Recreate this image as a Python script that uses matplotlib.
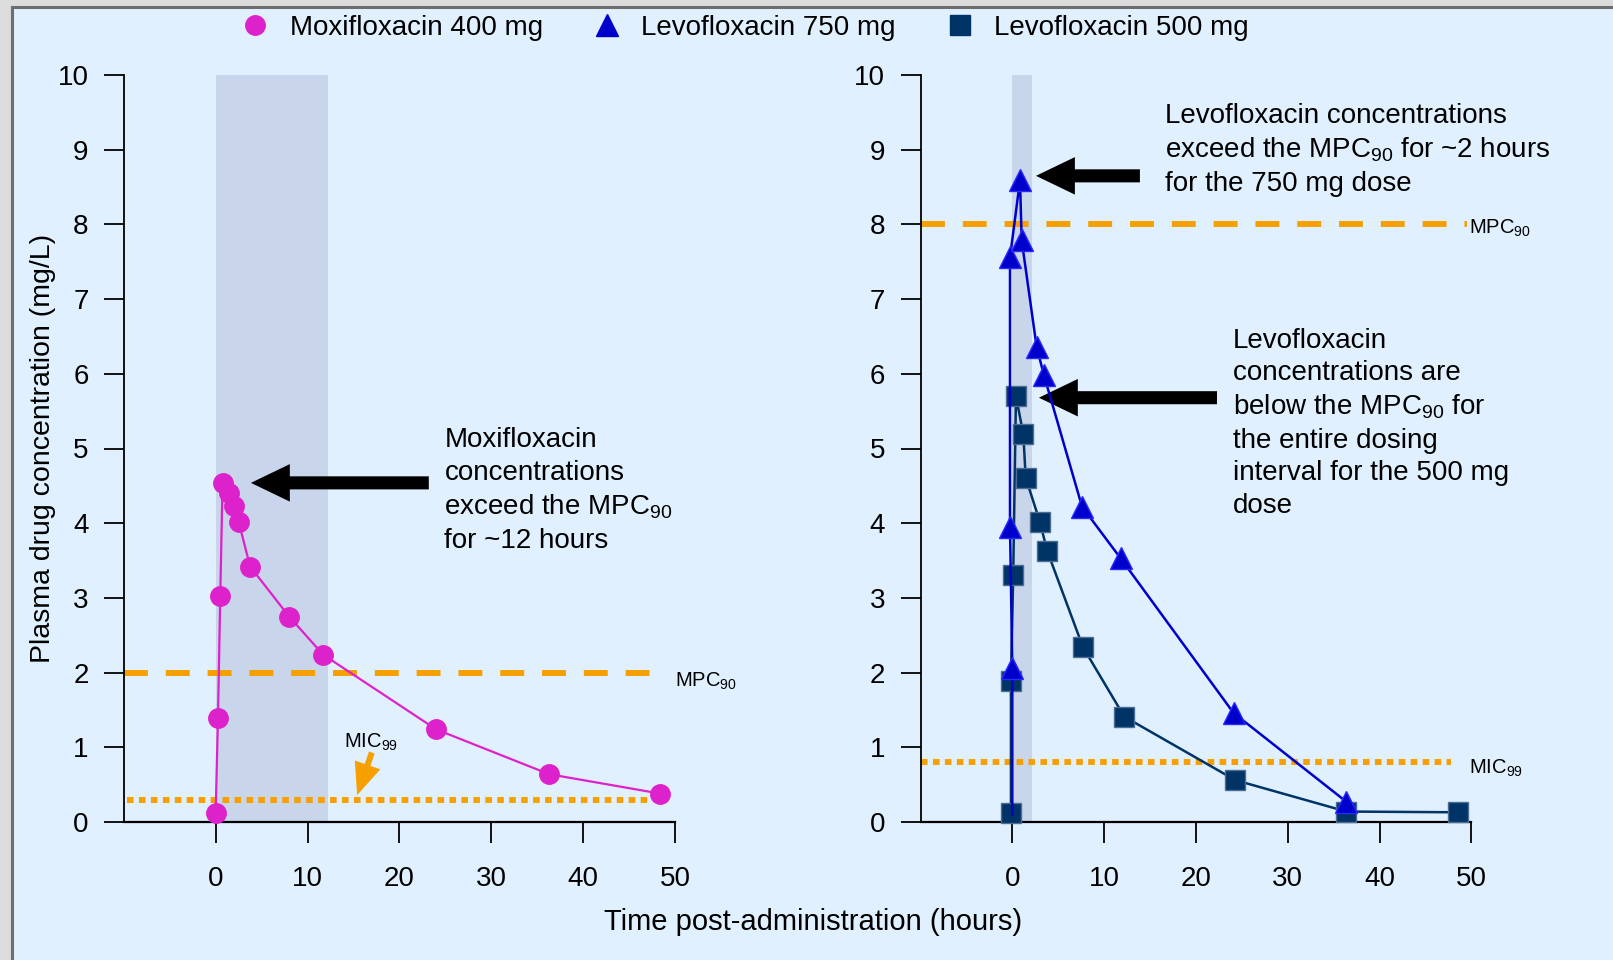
import matplotlib.pyplot as plt
from matplotlib.lines import Line2D
from matplotlib.patches import Rectangle

plt.rcParams['font.family'] = ['Liberation Sans', 'DejaVu Sans']
plt.rcParams['mathtext.fontset'] = 'custom'
plt.rcParams['mathtext.rm'] = 'Liberation Sans'
plt.rcParams['mathtext.it'] = 'Liberation Sans:italic'

# Data
moxi_t = [0, 0.25, 0.5, 0.75, 1.5, 2, 2.5, 3.75, 8, 11.7, 24, 36.3, 48.4]
moxi_c = [0.12, 1.39, 3.02, 4.54, 4.41, 4.23, 4.02, 3.42, 2.75, 2.24, 1.24, 0.64, 0.38]

levo750_t = [0, 0, -0.25, -0.25, 0.84, 1.02, 2.65, 3.45, 7.6, 11.8, 24.1, 36.4]
levo750_c = [0.1, 2.06, 3.95, 7.56, 8.59, 7.79, 6.36, 5.98, 4.22, 3.53, 1.46, 0.27]

levo500_t = [-0.15, -0.15, 0.1, 0.4, 1.2, 1.46, 3.0, 3.8, 7.7, 12.2, 24.3, 36.4, 48.5]
levo500_c = [0.12, 1.89, 3.31, 5.70, 5.19, 4.61, 4.02, 3.63, 2.34, 1.41, 0.56, 0.14, 0.13]

mpc_left, mic_left = 2.0, 0.3
mpc_right, mic_right = 8.0, 0.8
shade_left = (0, 12.2)
shade_right = (0, 2.1)

xticks = [0, 10, 20, 30, 40, 50]
yticks = list(range(0, 11))

c_moxi = '#DD22CC'
c_750 = '#0000CC'
c_500 = '#003366'
c_orange = '#F5A000'
c_shade = '#C8D5EA'
c_bg = '#E0F0FF'

W, H = 1613, 960
fig = plt.figure(figsize=(W / 100, H / 100), dpi=100)
fig.patch.set_facecolor('#DCDCDC')
fig.add_artist(Rectangle((11.5 / W, -0.02), 1.05, (H - 7) / H + 0.02,
                         transform=fig.transFigure, fc=c_bg, ec='#6E6E6E', lw=2.2,
                         zorder=-10))

bottom = 1 - 822 / H
height = (822 - 75) / H
ax1 = fig.add_axes([123.8 / W, bottom, (675 - 123.8) / W, height])
ax2 = fig.add_axes([920.5 / W, bottom, (1471.3 - 920.5) / W, height])

for ax in (ax1, ax2):
    ax.set_facecolor('none')
    ax.set_xlim(-10, 50)
    ax.set_ylim(0, 10)
    ax.spines['top'].set_visible(False)
    ax.spines['right'].set_visible(False)
    ax.spines['left'].set_linewidth(1.3)
    ax.spines['bottom'].set_linewidth(1.6)
    ax.set_xticks(xticks)
    ax.set_yticks(yticks)
    ax.tick_params(axis='y', direction='out', length=14.4, width=1.3, pad=11, labelsize=20)
    ax.tick_params(axis='x', direction='out', length=15, width=1.3, pad=17, labelsize=20)

# left panel: moxifloxacin
ax1.axvspan(*shade_left, color=c_shade, zorder=0, lw=0)
ax1.plot([-10, 47.5], [mpc_left, mpc_left], color=c_orange, lw=4.3, dashes=(4, 3), zorder=1)
ax1.plot([-9.7, 47.5], [mic_left, mic_left], color=c_orange, lw=4.3, dashes=(1.1, 0.9), zorder=1)
ax1.plot(moxi_t, moxi_c, color=c_moxi, lw=1.6, marker='o', ms=14, mec=c_moxi,
         clip_on=False, zorder=3)
ax1.text(50, 1.88, 'MPC$_{90}$', fontsize=14.5, va='center', ha='left')
ax1.text(14.0, 1.06, 'MIC$_{99}$', fontsize=14.5, va='center', ha='left')
ax1.annotate('', xy=(15.4, 0.36), xytext=(17.0, 0.93),
             arrowprops=dict(arrowstyle='simple,head_length=23,head_width=19.4,tail_width=4.3',
                             fc=c_orange, ec='none', shrinkA=0, shrinkB=0, mutation_scale=1))
ax1.annotate('', xy=(3.84, 4.54), xytext=(23.2, 4.54),
             arrowprops=dict(arrowstyle='simple,head_length=28,head_width=27,tail_width=9.4',
                             fc='black', ec='none', shrinkA=0, shrinkB=0, mutation_scale=1))
ax1.text(24.9, 4.44, 'Moxifloxacin\nconcentrations\nexceed the MPC$_{90}$\nfor ~12 hours',
         fontsize=20, va='center', ha='left', linespacing=1.32)
ax1.set_ylabel('Plasma drug concentration (mg/L)', fontsize=20.5, labelpad=1)

# right panel: levofloxacin
ax2.axvspan(*shade_right, color=c_shade, zorder=0, lw=0)
ax2.plot([-10, 49.5], [mpc_right, mpc_right], color=c_orange, lw=4.3, dashes=(4, 3), zorder=1)
ax2.plot([-10, 47.8], [mic_right, mic_right], color=c_orange, lw=4.3, dashes=(1.1, 0.9), zorder=1)
ax2.plot(levo500_t, levo500_c, color=c_500, lw=1.8, marker='s', ms=14, mec='#4d6d92',
         mew=1, clip_on=False, zorder=3)
ax2.plot(levo750_t, levo750_c, color=c_750, lw=1.8, marker='^', ms=16, mec='#2a2aff',
         mew=1, markevery=list(range(1, len(levo750_t))), clip_on=False, zorder=4)
ax2.text(49.7, 7.95, 'MPC$_{90}$', fontsize=14.5, va='center', ha='left')
ax2.text(49.7, 0.72, 'MIC$_{99}$', fontsize=14.5, va='center', ha='left')
ax2.annotate('', xy=(2.58, 8.65), xytext=(13.9, 8.65),
             arrowprops=dict(arrowstyle='simple,head_length=28,head_width=27,tail_width=9.4',
                             fc='black', ec='none', shrinkA=0, shrinkB=0, mutation_scale=1))
ax2.annotate('', xy=(2.9, 5.68), xytext=(22.3, 5.68),
             arrowprops=dict(arrowstyle='simple,head_length=28,head_width=27,tail_width=9.4',
                             fc='black', ec='none', shrinkA=0, shrinkB=0, mutation_scale=1))
ax2.text(16.6, 9.0, 'Levofloxacin concentrations\nexceed the MPC$_{90}$ for ~2 hours\nfor the 750 mg dose',
         fontsize=20, va='center', ha='left', linespacing=1.32)
ax2.text(24.0, 5.34, 'Levofloxacin\nconcentrations are\nbelow the MPC$_{90}$ for\nthe entire dosing\n'
         'interval for the 500 mg\ndose', fontsize=20, va='center', ha='left', linespacing=1.32)

fig.text(813 / W, 1 - 922 / H, 'Time post-administration (hours)', fontsize=21,
         ha='center', va='center')

handles = [
    Line2D([], [], ls='none', marker='o', ms=14, color=c_moxi, label='Moxifloxacin 400 mg'),
    Line2D([], [], ls='none', marker='^', ms=16, color=c_750, label='Levofloxacin 750 mg'),
    Line2D([], [], ls='none', marker='s', ms=14, color=c_500, label='Levofloxacin 500 mg'),
]
fig.legend(handles=handles, loc='center', bbox_to_anchor=(745 / W, 1 - 28 / H), ncol=3,
           frameon=False, fontsize=20, handlelength=1.0, handletextpad=0.75,
           columnspacing=1.8, borderpad=0)

fig.savefig('out.png', dpi=100, facecolor=fig.get_facecolor())
